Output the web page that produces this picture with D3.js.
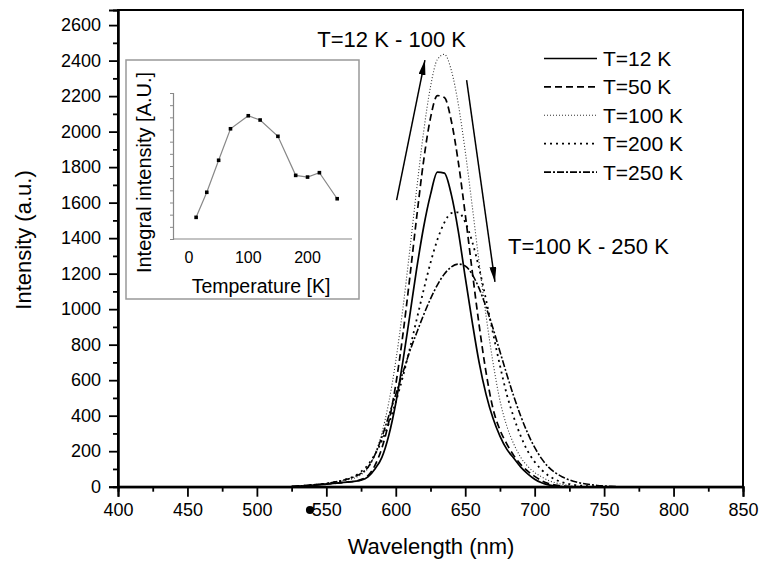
<!DOCTYPE html>
<html>
<head>
<meta charset="utf-8">
<script src="https://cdn.jsdelivr.net/npm/d3@7/dist/d3.min.js"></script>
<style>
  html, body { margin: 0; padding: 0; background: #fff; }
  svg { display: block; font-family: "Liberation Sans", Arial, sans-serif; }
</style>
</head>
<body>
<svg id="chart" width="761" height="561"></svg>
<script>
// ---------- data ----------
const wavelengths = [520,525,530,535,540,545,550,555,560,565,570,575,580,585,590,595,600,605,610,615,620,625,630,635,640,645,650,655,660,665,670,675,680,685,690,695,700,705,710,715,720,725,730,735,740,745,750,755,760];
const t12  = [null,0,3,5,8,11,14,18,22,26,30,36,55,100,165,290,470,700,960,1225,1460,1645,1772,1766,1645,1440,1180,930,700,520,385,285,210,160,110,72,42,22,10,4,0,null,null,null,null,null,null,null,null];
const t50  = [null,0,3,5,8,11,14,18,22,26,30,40,62,120,218,366,576,849,1172,1515,1833,2077,2203,2192,2060,1829,1535,1216,911,644,440,320,240,175,125,88,58,34,18,9,4,1,0,null,null,null,null,null,null];
const t100 = [null,0,4,7,10,14,18,24,30,38,48,68,104,182,303,476,708,997,1327,1673,1996,2253,2407,2435,2345,2155,1890,1583,1263,963,700,486,340,240,165,115,80,55,35,22,13,7,3,1,0,null,null,null,null];
const t200 = [null,0,4,7,10,14,18,25,32,44,58,85,123,182,259,357,477,617,774,940,1106,1261,1392,1488,1541,1545,1490,1381,1230,1053,865,683,518,390,285,200,140,95,62,40,25,15,8,5,3,1,0,null,null];
const t250 = [null,0,4,7,10,14,18,25,32,42,55,75,110,180,280,400,520,640,761,866,967,1058,1137,1198,1238,1254,1243,1196,1117,1012,892,761,631,508,397,301,221,158,110,78,55,38,26,18,12,7,4,2,0];
const seriesNames = ["T=12 K","T=50 K","T=100 K","T=200 K","T=250 K"];

const xTicks = [400,450,500,550,600,650,700,750,800,850];
const yTicks = [0,200,400,600,800,1000,1200,1400,1600,1800,2000,2200,2400,2600];

// inset: integral intensity vs temperature
const insetTemps = [12,30,50,70,100,120,150,180,200,220,250];
const insetIntensity = [1.78,3.84,6.47,9.06,10.13,9.78,8.44,5.23,5.09,5.45,3.31];
const insetXTicks = [0,100,200];

// ---------- layout ----------
const svg = d3.select("#chart");
const L = 118, R = 743, T = 10, B = 486.7;
const x = d3.scaleLinear().domain([400, 850]).range([L, R]);
const y = d3.scaleLinear().domain([0, 2685]).range([B, T]);

const styles = [
  {dash: null, width: 1.7, color: "#000"},
  {dash: "7,4", width: 1.7, color: "#000"},
  {dash: "1,2", width: 1.1, color: "#333"},
  {dash: "2,4", width: 1.8, color: "#000"},
  {dash: "7,2,2,2", width: 1.6, color: "#000"}
];
const allSeries = [t12, t50, t100, t200, t250];

// curves
const line = d3.line()
  .defined(d => d.v !== null)
  .x(d => x(d.w)).y(d => y(d.v))
  .curve(d3.curveMonotoneX);

allSeries.forEach((vals, i) => {
  const data = wavelengths.map((w, j) => ({w, v: vals[j]}));
  svg.append("path")
    .datum(data)
    .attr("d", line)
    .attr("fill", "none")
    .attr("stroke", styles[i].color)
    .attr("stroke-width", styles[i].width)
    .attr("stroke-dasharray", styles[i].dash);
});

// frame
svg.append("rect").attr("x", L).attr("y", T).attr("width", R - L).attr("height", B - T)
  .attr("fill", "none").attr("stroke", "#000").attr("stroke-width", 2);

// axes
const xAxis = svg.append("g").attr("transform", `translate(0,${B})`)
  .call(d3.axisBottom(x).tickValues(xTicks).tickSize(10).tickPadding(7).tickFormat(d3.format("d")));
const xMinor = svg.append("g").attr("transform", `translate(0,${B})`)
  .call(d3.axisBottom(x).tickValues(d3.range(425, 850, 50)).tickSize(5).tickFormat(""));
const yAxis = svg.append("g").attr("transform", `translate(${L},0)`)
  .call(d3.axisLeft(y).tickValues(yTicks).tickSize(9).tickPadding(8).tickFormat(d3.format("d")));
const yMinor = svg.append("g").attr("transform", `translate(${L},0)`)
  .call(d3.axisLeft(y).tickValues(d3.range(100, 2700, 200)).tickSize(5).tickFormat(""));

[xAxis, xMinor, yAxis, yMinor].forEach(g => {
  g.select(".domain").attr("stroke-width", 2);
  g.selectAll(".tick line").attr("stroke-width", 1.8);
  g.selectAll("text").attr("font-size", 18).attr("font-family", "Liberation Sans, Arial, sans-serif").attr("fill", "#000");
});

// axis titles
svg.append("text").attr("x", 431).attr("y", 554).attr("text-anchor", "middle")
  .attr("font-size", 22).text("Wavelength (nm)");
svg.append("text").attr("transform", "translate(31,240) rotate(-90)").attr("text-anchor", "middle")
  .attr("font-size", 22).text("Intensity (a.u.)");

// stray dot in original
svg.append("circle").attr("cx", x(538.2)).attr("cy", y(-131)).attr("r", 4).attr("fill", "#000");

// legend
const legX1 = 544, legX2 = 597, legY0 = 58.5, legDY = 28.4;
seriesNames.forEach((name, i) => {
  const yy = legY0 + i * legDY;
  svg.append("line").attr("x1", legX1).attr("x2", legX2).attr("y1", yy).attr("y2", yy)
    .attr("stroke", styles[i].color).attr("stroke-width", styles[i].width)
    .attr("stroke-dasharray", styles[i].dash);
  svg.append("text").attr("x", 603).attr("y", yy + 7.5).attr("font-size", 21).text(name);
});

// annotations with arrows
const defs = svg.append("defs");
defs.append("marker").attr("id", "arr").attr("viewBox", "0 0 10 10")
  .attr("refX", 10).attr("refY", 5).attr("markerWidth", 15).attr("markerHeight", 7)
  .attr("markerUnits", "userSpaceOnUse").attr("orient", "auto")
  .attr("preserveAspectRatio", "none")
  .append("path").attr("d", "M0,0 L10,5 L0,10 Z").attr("fill", "#000");

svg.append("line").attr("x1", x(600.6)).attr("y1", y(1614)).attr("x2", x(621)).attr("y2", y(2403))
  .attr("stroke", "#000").attr("stroke-width", 1.5).attr("marker-end", "url(#arr)");
svg.append("line").attr("x1", x(651)).attr("y1", y(2290)).attr("x2", x(671.4)).attr("y2", y(1154))
  .attr("stroke", "#000").attr("stroke-width", 1.5).attr("marker-end", "url(#arr)");

svg.append("text").attr("x", x(597)).attr("y", 47).attr("text-anchor", "middle")
  .attr("font-size", 22).text("T=12 K - 100 K");
svg.append("text").attr("x", x(680.8)).attr("y", 254)
  .attr("font-size", 22).text("T=100 K - 250 K");

// ---------- inset ----------
const inset = svg.append("g");
inset.append("rect").attr("x", 126).attr("y", 60).attr("width", 233).attr("height", 239)
  .attr("fill", "#fff").attr("stroke", "#999").attr("stroke-width", 1.5);
const xi = d3.scaleLinear().domain([-27, 275]).range([173, 352]);
const yi = d3.scaleLinear().domain([0, 12]).range([239, 93]);
inset.append("line").attr("x1", xi(-27)).attr("x2", xi(275)).attr("y1", yi(0)).attr("y2", yi(0))
  .attr("stroke", "#888").attr("stroke-width", 1.2);
const yiAxis = inset.append("g").attr("transform", "translate(173,0)")
  .call(d3.axisLeft(yi).tickValues(d3.range(0, 13, 1)).tickSize(3).tickFormat(""));
yiAxis.select(".domain").attr("stroke", "#888").attr("stroke-width", 1.2);
yiAxis.selectAll(".tick line").attr("stroke", "#888");
insetXTicks.forEach(t => {
  inset.append("text").attr("x", xi(t)).attr("y", 263).attr("text-anchor", "middle")
    .attr("font-size", 16).text(t);
});
const iline = d3.line().x((d, i) => xi(insetTemps[i])).y(d => yi(d));
inset.append("path").datum(insetIntensity).attr("d", iline)
  .attr("fill", "none").attr("stroke", "#888").attr("stroke-width", 1.2);
inset.selectAll("rect.pt").data(insetIntensity).enter().append("rect").attr("class", "pt")
  .attr("x", (d, i) => xi(insetTemps[i]) - 1.8).attr("y", d => yi(d) - 1.8)
  .attr("width", 3.6).attr("height", 3.6).attr("fill", "#000");
inset.append("text").attr("x", 261).attr("y", 292.5).attr("text-anchor", "middle")
  .attr("font-size", 19.5).text("Temperature [K]");
inset.append("text").attr("transform", "translate(151,172.5) rotate(-90)").attr("text-anchor", "middle")
  .attr("font-size", 20).text("Integral intensity [A.U.]");
</script>
</body>
</html>
